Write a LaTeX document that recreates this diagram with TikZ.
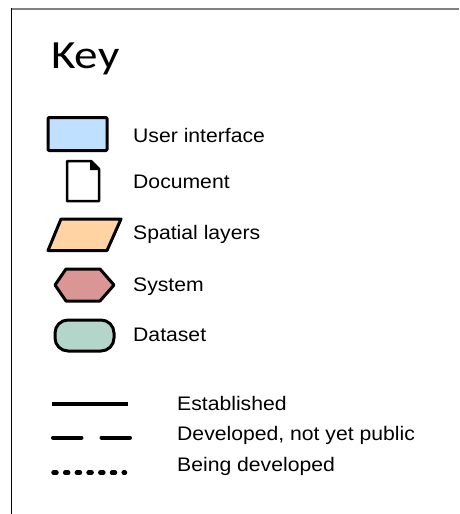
\documentclass[tikz,border=0pt]{standalone}
\usepackage{fontspec}
\setmainfont[FakeStretch=1.08]{Liberation Sans}
\newfontfamily\keyfont[FakeStretch=1.18]{Carlito}
\definecolor{uiblue}{HTML}{C0E0FF}
\definecolor{peach}{HTML}{FFD3A2}
\definecolor{rose}{HTML}{D99694}
\definecolor{sage}{HTML}{B3D5CA}
\tikzset{
  shp/.style={draw=black, line width=3pt, line join=round},
  lbl/.style={anchor=base west, inner sep=0pt, font=\fontsize{19.6}{22}\selectfont},
  legline/.style={line width=4pt, line cap=round},
}
\begin{document}
\begin{tikzpicture}[x=1pt,y=-1pt]
\useasboundingbox (0,0) rectangle (459,514);
% frame
\draw[gray, line width=2pt] (11,8.5) -- (459,8.5);
\draw[black, line width=1.3pt] (11.5,8) -- (11.5,514);
% title
\node[anchor=base west, inner sep=0pt, font=\keyfont\fontsize{40}{44}\selectfont] (key) at (51,68) {Key};
% user interface
\draw[shp, fill=uiblue, rounded corners=1pt] (48,117.5) rectangle (107,150.5);
\node[lbl] (t1) at (133,142) {User interface};
% document
\draw[shp, line width=2.5pt, fill=white] (67,161) -- (91,161) -- (99,169) -- (99,201) -- (67,201) -- cycle;
\fill[black] (90,161) -- (90,170) -- (99,170) -- cycle;
\node[lbl] (t2) at (133,188.5) {Document};
% spatial layers
\draw[shp, fill=peach] (61,219) -- (121,219) -- (107,250.5) -- (48,250.5) -- cycle;
\node[lbl] (t3) at (133,239.5) {Spatial layers};
% system
\draw[shp, fill=rose] (55,285) -- (66,269) -- (100,269) -- (114,285) -- (100,301) -- (66,301) -- cycle;
\node[lbl] (t4) at (133,291) {System};
% dataset
\draw[shp, fill=sage, rounded corners=13pt] (55,320) rectangle (114,351);
\node[lbl] (t5) at (133,341.7) {Dataset};
% lines
\draw[legline, line width=3.4pt, line cap=butt] (52,404) -- (127.5,404);
\node[lbl] (t6) at (177,410.7) {Established};
\draw[legline, dash pattern=on 28.5pt off 20pt] (53,437.5) -- (130,437.5);
\node[lbl] (t7) at (177,440.5) {Developed, not yet public};
\draw[legline, line width=4.5pt, dash pattern=on 3pt off 8.7pt] (53.5,472.7) -- (125,472.7);
\node[lbl] (t8) at (177,471) {Being developed};
\end{tikzpicture}
\end{document}
